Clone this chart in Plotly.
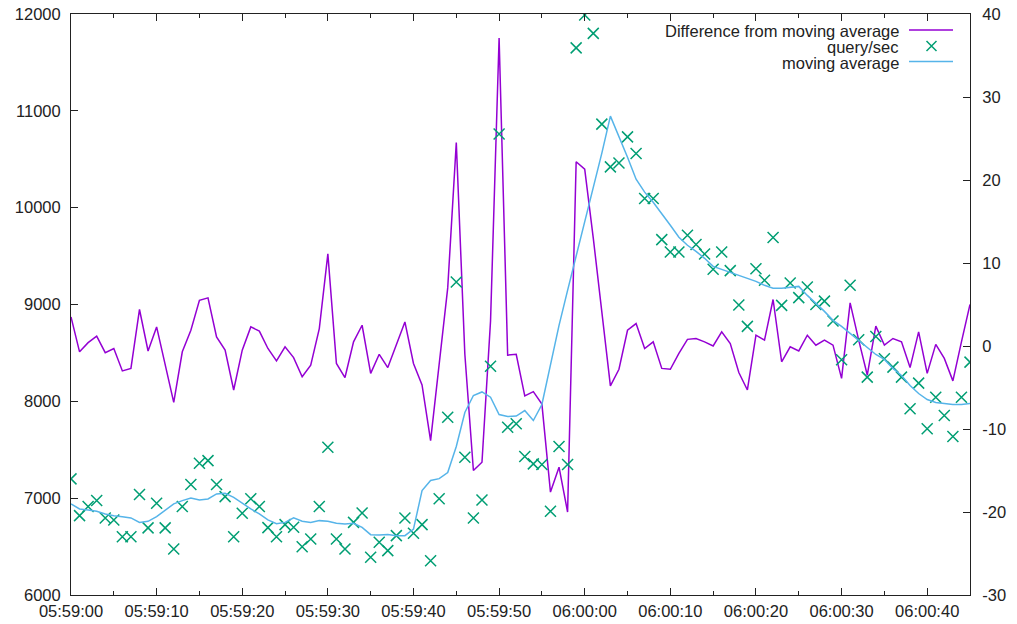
import plotly.graph_objects as go
import pandas as pd

# ---- data (one sample per second from 05:59:00) ----
start_time = "2024-01-01 05:59:00"
n_points = 106
times = pd.date_range(start_time, periods=n_points, freq="s")

diff_from_ma = [
    3.5, -0.7, 0.4, 1.2, -0.8, -0.3, -3.0, -2.7, 4.4, -0.6,
    2.3, -2.3, -6.8, -0.7, 1.9, 5.5, 5.8, 1.1, -0.5, -5.3,
    -0.5, 2.3, 1.8, -0.3, -1.8, -0.1, -1.4, -3.7, -2.3, 2.1,
    11.1, -2.1, -3.8, 0.5, 2.5, -3.3, -1.0, -2.6, 0.1, 2.9,
    -2.1, -4.7, -11.4, -2.5, 7.0, 24.5, -1.0, -15.0, -14.0, 3.0,
    37.1, -1.1, -1.0, -6.0, -5.5, -7.0, -17.6, -14.6, -20.0, 22.2,
    21.3, 13.0, 3.7, -4.8, -2.8, 1.9, 2.7, -0.3, 0.5, -2.7,
    -2.8, -0.9, 0.8, 0.9, 0.5, 0.0, 1.7, 0.3, -3.2, -5.3,
    1.3, 0.7, 5.6, -1.9, -0.1, -0.6, 1.3, 0.1, 0.7, 0.1,
    -3.9, 5.2, 0.7, -3.5, 2.4, 0.1, 0.9, 0.5, -2.6, 1.7,
    -3.3, 0.2, -1.5, -4.2, 0.5, 5.0,
]

query_per_sec = [
    7199, 6820, 6913, 6975, 6796, 6775, 6602, 6602, 7037, 6693,
    6947, 6693, 6475, 6913, 7141, 7360, 7388, 7141, 7016, 6602,
    6844, 6993, 6913, 6696, 6602, 6727, 6699, 6499, 6579, 6913,
    7526, 6579, 6475, 6750, 6847, 6389, 6544, 6458, 6613, 6796,
    6637, 6727, 6354, 6993, 7836, 9232, 7422, 6796, 6982, 8363,
    10760, 7733, 7768, 7430, 7354, 7347, 6864, 7533, 7347, 11650,
    11990, 11800, 10863, 10421, 10462, 10731, 10560, 10094, 10094, 9670,
    9542, 9542, 9715, 9620, 9522, 9365, 9542, 9350, 8995, 8774,
    9370, 9250, 9691, 8991, 9222, 9071, 9180, 9000, 9035, 8829,
    8429, 9198, 8636, 8250, 8670, 8440, 8353, 8250, 7923, 8188,
    7716, 8043, 7854, 7636, 8043, 8405,
]

moving_average = [
    6940, 6889, 6878, 6864, 6837, 6819, 6809, 6796, 6750, 6761,
    6809, 6871, 6941, 6975, 7002, 6981, 6992, 7044, 7050, 7009,
    6947, 6889, 6837, 6775, 6737, 6750, 6796, 6761, 6750, 6768,
    6761, 6740, 6734, 6740, 6699, 6623, 6620, 6625, 6613, 6613,
    6680, 7078, 7182, 7202, 7264, 7533, 7885, 8060, 8097, 8043,
    7864, 7843, 7848, 7905, 7802, 7967, 8377, 8785, 9146, 9498,
    9849, 10200, 10563, 10945, 10739, 10521, 10294, 10160, 10056, 9942,
    9818, 9694, 9612, 9549, 9477, 9394, 9363, 9332, 9301, 9270,
    9239, 9198, 9167, 9167, 9177, 9187, 9094, 9012, 8929, 8836,
    8774, 8701, 8629, 8557, 8484, 8433, 8340, 8267, 8164, 8081,
    8019, 7988, 7978, 7967, 7967, 7978,
]

series_names = ["Difference from moving average", "query/sec", "moving average"]
left_ticks = [6000, 7000, 8000, 9000, 10000, 11000, 12000]
right_ticks = [-30, -20, -10, 0, 10, 20, 30, 40]
right_tick_text = ["-30", "-20", "-10", "0", "10", "20", "30", "40"]

# ---- styles ----
PURPLE = "#9400d3"
GREEN = "#009e73"
BLUE = "#56b4e9"
AXIS = "#222222"
FONT = "Liberation Sans, Arial, sans-serif"
FS = 16.5

fig = go.Figure()
fig.add_trace(go.Scatter(
    x=times, y=diff_from_ma, mode="lines", name=series_names[0],
    line=dict(color=PURPLE, width=1.5), yaxis="y",
))
fig.add_trace(go.Scatter(
    x=times, y=query_per_sec, mode="markers", name=series_names[1],
    marker=dict(symbol="x-thin", size=11, color=GREEN,
                line=dict(width=1.5, color=GREEN)),
    yaxis="y2",
))
fig.add_trace(go.Scatter(
    x=times, y=moving_average, mode="lines", name=series_names[2],
    line=dict(color=BLUE, width=1.5), yaxis="y2",
))

fig.update_layout(
    width=1017, height=624,
    margin=dict(l=71, r=47, t=14, b=29),
    paper_bgcolor="white", plot_bgcolor="white",
    font=dict(family=FONT, size=FS, color=AXIS),
    showlegend=False,
    xaxis=dict(
        type="date", automargin=False,
        range=[times[0], pd.Timestamp("2024-01-01 06:00:45")],
        dtick=10000, tick0=times[0], tickformat="%H:%M:%S",
        ticks="inside", ticklen=7, tickwidth=1, tickcolor=AXIS,
        minor=dict(dtick=5000, tick0=times[0], ticks="inside", ticklen=4,
                   tickcolor=AXIS, showgrid=False),
        showline=True, linecolor=AXIS, linewidth=1, mirror="ticks",
        showgrid=False, zeroline=False, ticklabelstandoff=1,
        tickfont=dict(family=FONT, size=FS, color=AXIS),
    ),
    yaxis=dict(
        side="right", range=[-30, 40], automargin=False,
        tickmode="array", tickvals=right_ticks, ticktext=right_tick_text,
        ticks="inside", ticklen=7, tickcolor=AXIS,
        showline=True, linecolor=AXIS, linewidth=1,
        showgrid=False, zeroline=False, ticklabelstandoff=8,
        tickfont=dict(family=FONT, size=FS, color=AXIS),
    ),
    yaxis2=dict(
        overlaying="y", side="left", range=[6000, 12000], automargin=False,
        tickmode="array", tickvals=left_ticks,
        ticktext=[str(v) for v in left_ticks],
        ticks="inside", ticklen=7, tickcolor=AXIS,
        showline=True, linecolor=AXIS, linewidth=1,
        showgrid=False, zeroline=False, ticklabelstandoff=6,
        tickfont=dict(family=FONT, size=FS, color=AXIS),
    ),
)

# ---- gnuplot-style key (text right-aligned, sample to the right) ----
W = 1017 - 71 - 47
H = 624 - 14 - 29
def px(xp):
    return (xp - 71) / W
def py(yp):
    return (595 - yp) / H

rows_y = [30, 46, 61.5]
text_right = 901
for name, yy in zip(series_names, rows_y):
    fig.add_annotation(
        xref="paper", yref="paper", x=px(text_right), y=py(yy + 1),
        text=name, showarrow=False, xanchor="right", yanchor="middle",
        font=dict(family=FONT, size=FS, color=AXIS),
    )
# line samples
for color, yy in [(PURPLE, rows_y[0]), (BLUE, rows_y[2])]:
    fig.add_shape(type="line", xref="paper", yref="paper",
                  x0=px(909), x1=px(953), y0=py(yy), y1=py(yy),
                  line=dict(color=color, width=1.5))
# X marker sample
cx, cy, r = 931.5, rows_y[1], 5
fig.add_shape(type="path", xref="paper", yref="paper",
              path=(f"M {px(cx - r)} {py(cy - r)} L {px(cx + r)} {py(cy + r)} "
                    f"M {px(cx - r)} {py(cy + r)} L {px(cx + r)} {py(cy - r)}"),
              line=dict(color=GREEN, width=1.5))

fig.write_html(
    "out.html",
    config={"displayModeBar": False},
    post_script="document.body.style.margin='0';document.body.style.overflow='hidden';",
)
